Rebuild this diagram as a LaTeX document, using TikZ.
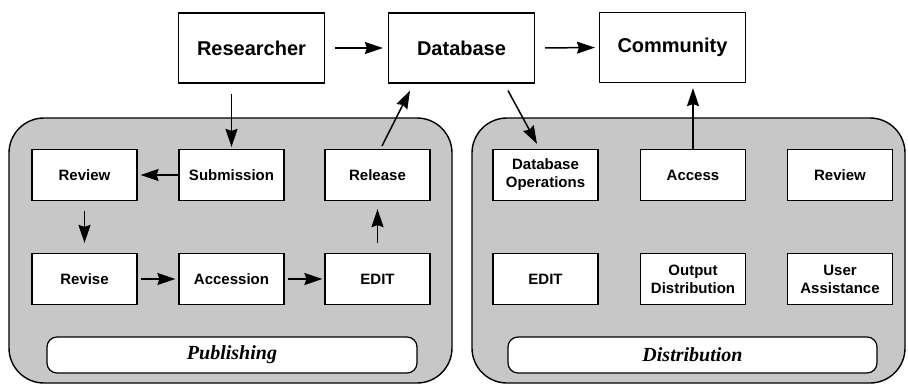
\documentclass[tikz,border=0pt]{standalone}
\usepackage{fontspec}
\setmainfont{Liberation Serif}
\newfontfamily\boxfont{Liberation Sans}
\usetikzlibrary{arrows.meta}
\tikzset{
  bigbox/.style={draw, fill=white, line width=1.2pt, inner sep=0pt, minimum width=146pt, minimum height=70pt, font=\boxfont\bfseries\fontsize{20}{24}\selectfont},
  smallbox/.style={draw, fill=white, line width=1.2pt, inner sep=0pt, minimum width=105pt, minimum height=51pt, align=center, font=\boxfont\bfseries\fontsize{15}{18}\selectfont},
  container/.style={draw, fill=black!22, line width=1.4pt, rounded corners=35pt},
  bar/.style={draw, fill=white, line width=1.2pt, rounded corners=10pt, inner sep=0pt, font=\bfseries\itshape\fontsize{20}{24}\selectfont},
  arr/.style={-{Stealth[length=18pt,width=12pt,inset=2pt]}, line width=1.5pt},
}
\begin{document}
\begin{tikzpicture}[x=1pt,y=-1pt]
\useasboundingbox (0,0) rectangle (908,386);
% containers
\draw[container] (9,118) rectangle (452,383);
\draw[container] (472,118) rectangle (905,383);
\node[bar, minimum width=370pt, minimum height=36pt] (pub) at (232,355) {Publishing};
\node[bar, minimum width=369pt, minimum height=36pt] (dist) at (692.5,355) {Distribution};
% top boxes
\node[bigbox] (res) at (251.5,48) {Researcher};
\node[bigbox] (db) at (461.5,48) {Database};
\node[bigbox] (com) at (672.5,47.5) {Community};
% publishing boxes
\node[smallbox] (rev) at (84.5,175) {Review};
\node[smallbox] (sub) at (231.5,175) {Submission};
\node[smallbox] (rel) at (377.5,175) {Release};
\node[smallbox] (rvs) at (84.5,279) {Revise};
\node[smallbox] (acc) at (231.5,279) {Accession};
\node[smallbox] (edit) at (377.5,279) {EDIT};
% distribution boxes
\node[smallbox] (dbo) at (545.5,175) {Database\\Operations};
\node[smallbox] (access) at (693,175) {Access};
\node[smallbox] (rev2) at (840,175) {Review};
\node[smallbox] (edit2) at (545.5,279) {EDIT};
\node[smallbox] (out) at (693,279) {Output\\Distribution};
\node[smallbox] (ua) at (840,279) {User\\Assistance};
% arrows
\draw[arr, shorten <=10pt, shorten >=5pt] (res.east) -- (db.west);
\draw[arr, shorten <=10pt, shorten >=4pt] (db.east) -- (com.west);
\draw[arr, shorten <=10pt, shorten >=2pt] (sub.north |- res.south) -- (sub.north);
\draw[arr, shorten >=3pt] (sub.west) -- (rev.east);
\draw[arr, shorten <=10pt, shorten >=10pt] (rev.south) -- (rvs.north);
\draw[arr, shorten <=3pt, shorten >=3pt] (rvs.east) -- (acc.west);
\draw[arr, shorten <=3pt, shorten >=2pt] (acc.east) -- (edit.west);
\draw[arr, shorten <=10pt, shorten >=8pt] (edit.north) -- (rel.south);
\draw[arr] ([xshift=4.5pt,yshift=3pt]rel.north) -- ([xshift=-51.5pt,yshift=-7pt]db.south);
\draw[arr] ([xshift=46.5pt,yshift=-7pt]db.south) -- ([xshift=-8.5pt,yshift=5pt]dbo.north);
\draw[arr, shorten >=5pt] (access.north) -- (access.north |- com.south);
\end{tikzpicture}
\end{document}
